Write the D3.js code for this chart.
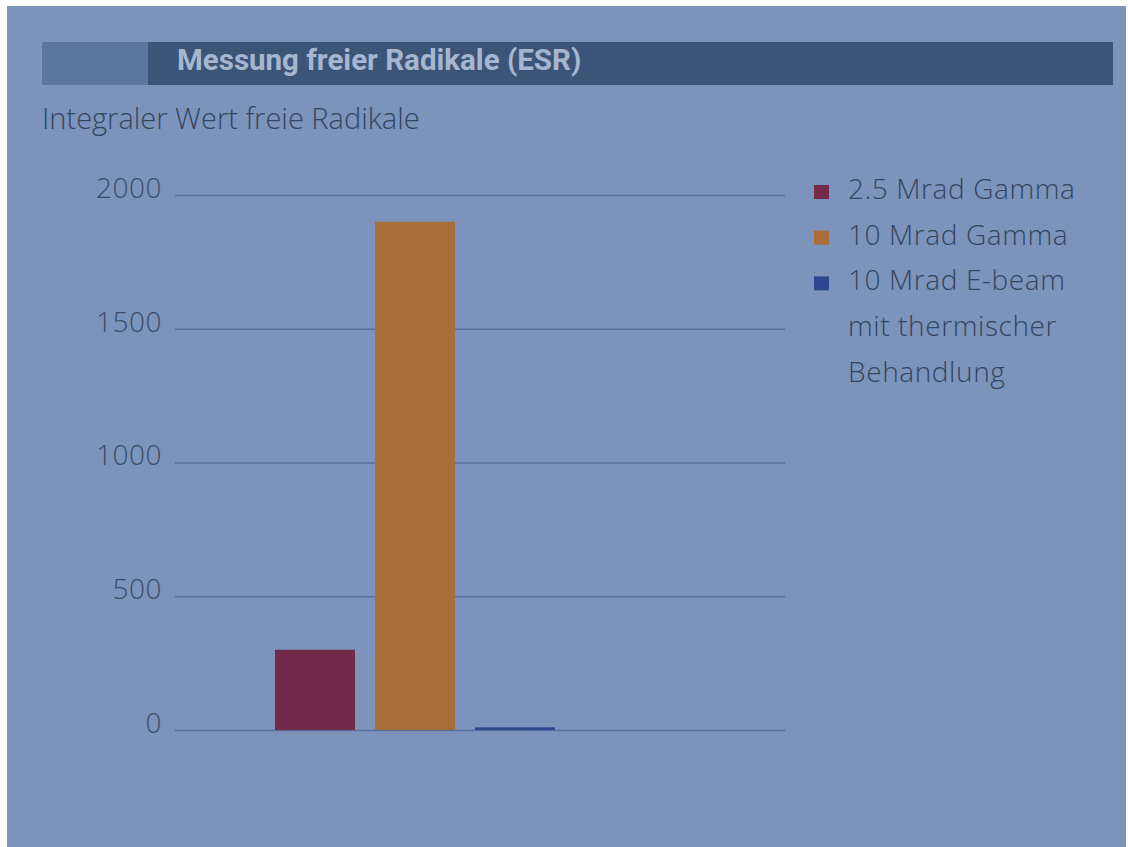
<!DOCTYPE html>
<html>
<head>
<meta charset="utf-8">
<script src="https://cdn.jsdelivr.net/npm/d3@7"></script>
<style>
  html, body { margin: 0; padding: 0; background: #ffffff; }
  svg { display: block; }
</style>
</head>
<body>
<div id="chart"></div>
<script>
// chart data
var categories = ["2.5 Mrad Gamma", "10 Mrad Gamma", "10 Mrad E-beam mit thermischer Behandlung"];
var values = [300, 1900, 10];
var yTicks = [0, 500, 1000, 1500, 2000];
var legendLines = [
    ["2.5 Mrad Gamma"],
    ["10 Mrad Gamma"],
    ["10 Mrad E-beam", "mit thermischer", "Behandlung"]
];
var colors = ["#72294a", "#a96d3a", "#2c4690"];

var w = 1128;
var h = 847;
var lightFont = "'Open Sans', Lato, sans-serif";

var svg = d3.select("#chart")
    .append("svg")
    .attr("width", w)
    .attr("height", h);

// photo background with white border
svg.append("rect")
    .attr("x", 7).attr("y", 6)
    .attr("width", w - 9).attr("height", h - 6)
    .attr("fill", "#7c93bc");

// title bar
svg.append("rect")
    .attr("x", 42).attr("y", 42)
    .attr("width", 1071).attr("height", 43)
    .attr("fill", "#3d5479");
svg.append("rect")
    .attr("x", 42).attr("y", 42)
    .attr("width", 106).attr("height", 43)
    .attr("fill", "#5d76a0");
svg.append("text")
    .attr("x", 177).attr("y", 70)
    .attr("font-family", "Roboto, 'DejaVu Sans Condensed', sans-serif")
    .attr("font-weight", "bold")
    .attr("font-size", 29.5)
    .attr("fill", "#a6b6d1")
    .text("Messung freier Radikale (ESR)");

// subtitle
svg.append("text")
    .attr("x", 42).attr("y", 129)
    .attr("font-family", lightFont)
    .attr("font-weight", 300)
    .attr("font-size", 29)
    .attr("fill", "#34455f")
    .text("Integraler Wert freie Radikale");

// scales
var xScale = d3.scaleBand()
    .domain(categories)
    .range([275, 555])
    .paddingInner(0.2)
    .paddingOuter(0);

var yScale = d3.scaleLinear()
    .domain([0, 2000])
    .range([730, 195]);

// gridlines + labels via axis
var yAxis = d3.axisLeft(yScale)
    .tickValues(yTicks)
    .tickSize(-610)
    .tickPadding(13)
    .tickFormat(d3.format("d"));

var gAxis = svg.append("g")
    .attr("transform", "translate(175,0)")
    .call(yAxis);

gAxis.select(".domain").remove();
gAxis.selectAll(".tick line")
    .attr("stroke", "#5a6f9a")
    .attr("stroke-width", 1.3);
gAxis.selectAll(".tick text")
    .attr("font-family", lightFont)
    .attr("font-weight", 300)
    .attr("font-size", 28)
    .attr("letter-spacing", 0.5)
    .attr("fill", "#3b4c6a")
    .attr("dy", "0.08em");

// bars
svg.selectAll("rect.bar")
    .data(values)
    .enter()
    .append("rect")
    .attr("class", "bar")
    .attr("x", function(d, i){ return xScale(categories[i]); })
    .attr("y", function(d){ return yScale(d); })
    .attr("width", xScale.bandwidth())
    .attr("height", function(d){ return yScale(0) - yScale(d); })
    .attr("fill", function(d, i){ return colors[i]; });

// legend
var lineH = 45.7;
var legend = svg.append("g").attr("transform", "translate(814,199)");
var row = 0;
legendLines.forEach(function(lines, i){
    legend.append("rect")
        .attr("x", 0)
        .attr("y", row * lineH - 14)
        .attr("width", 15).attr("height", 14)
        .attr("fill", colors[i]);
    lines.forEach(function(t){
        legend.append("text")
            .attr("x", 34)
            .attr("y", row * lineH)
            .attr("font-family", lightFont)
            .attr("font-weight", 300)
            .attr("font-size", 28)
            .attr("letter-spacing", 0.6)
            .attr("fill", "#34455f")
            .text(t);
        row++;
    });
});
</script>
</body>
</html>
